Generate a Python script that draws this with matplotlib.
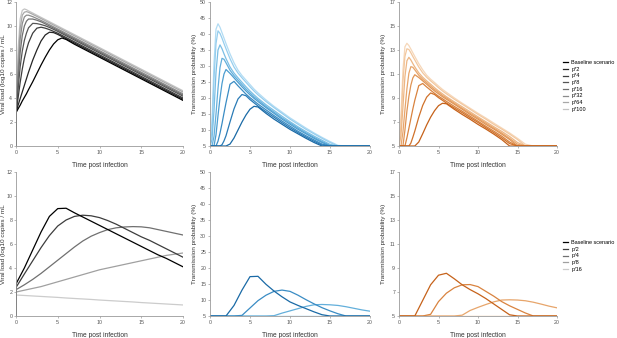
import matplotlib
matplotlib.use("Agg")
import matplotlib.pyplot as plt

plt.rcParams['font.family'] = ['Liberation Sans', 'DejaVu Sans']

# ---------------- data ----------------
# top row: increasing p
top_labels = ['Baseline scenario', 'p*2', 'p*4', 'p*8', 'p*16', 'p*32', 'p*64', 'p*100']

t_vl = [0, 0.02, 0.25, 0.5, 0.75, 1, 1.25, 1.5, 2, 2.5, 3, 3.5, 4, 4.5, 5, 5.5, 6, 7, 10, 15, 20]
vl_base = [0, 2.8, 3.1, 3.4, 3.75, 4.05, 4.35, 4.7, 5.35, 6.05, 6.75, 7.4, 8.0, 8.5, 8.85, 9.0, 8.88, 8.48, 7.4, 5.6, 3.8]
vl_p2 = [0, 2.85, 3.4, 3.95, 4.5, 5.05, 5.6, 6.15, 7.15, 8.0, 8.75, 9.25, 9.48, 9.45, 9.3, 9.12, 8.94, 8.58, 7.5, 5.7, 3.9]
vl_p4 = [0, 2.9, 4.0, 5.3, 6.4, 7.3, 8.0, 8.6, 9.4, 9.82, 9.9, 9.82, 9.7, 9.55, 9.4, 9.22, 9.04, 8.68, 7.6, 5.8, 4.0]
vl_p8 = [0, 2.9, 4.7, 6.6, 7.9, 8.8, 9.4, 9.85, 10.22, 10.2, 10.12, 10.02, 9.88, 9.72, 9.55, 9.37, 9.19, 8.83, 7.75, 5.95, 4.15]
vl_p16 = [0, 2.95, 5.5, 7.8, 9.2, 10.0, 10.4, 10.58, 10.58, 10.48, 10.35, 10.18, 10.0, 9.83, 9.65, 9.47, 9.29, 8.93, 7.85, 6.05, 4.25]
vl_p32 = [0, 3.0, 6.2, 8.9, 10.2, 10.75, 10.9, 10.9, 10.78, 10.62, 10.46, 10.29, 10.11, 9.93, 9.75, 9.57, 9.39, 9.03, 7.95, 6.15, 4.35]
vl_p64 = [0, 3.0, 7.0, 9.8, 10.9, 11.15, 11.2, 11.14, 10.97, 10.8, 10.62, 10.44, 10.26, 10.08, 9.9, 9.72, 9.54, 9.18, 8.1, 6.3, 4.5]
vl_p100 = [0, 3.0, 8.0, 10.6, 11.3, 11.42, 11.36, 11.26, 11.08, 10.9, 10.72, 10.54, 10.36, 10.18, 10.0, 9.82, 9.64, 9.28, 8.2, 6.4, 4.6]

t_tp = [0, 0.25, 0.5, 0.75, 1, 1.25, 1.5, 1.75, 2, 2.5, 3, 3.5, 4, 4.5, 5, 5.5, 6, 7, 8, 9, 10, 11, 12, 13, 14, 15, 16, 17, 20]
tb_base = [5, 5, 5, 5, 5, 5, 5, 5, 5, 5.6, 7.5, 10.0, 12.5, 14.7, 16.5, 17.4, 17.2, 15.2, 13.4, 11.8, 10.2, 8.8, 7.4, 6.1, 5.0, 5, 5, 5, 5]
tb_p2 = [5, 5, 5, 5, 5, 5, 5.4, 6.6, 8.2, 12.5, 16.6, 19.7, 21.1, 20.7, 19.5, 18.5, 17.5, 15.7, 14.0, 12.3, 10.7, 9.2, 7.8, 6.5, 5.3, 5, 5, 5, 5]
tb_p4 = [5, 5, 5, 5, 6.5, 9.0, 12.0, 15.3, 18.5, 24.3, 25.2, 23.8, 22.5, 21.2, 20.1, 19.1, 18.1, 16.3, 14.5, 12.8, 11.2, 9.6, 8.2, 6.9, 5.6, 5, 5, 5, 5]
tb_p8 = [5, 5, 5, 8.5, 14.5, 20.0, 24.5, 27.5, 28.9, 27.7, 26.3, 24.9, 23.5, 22.2, 21.0, 19.9, 18.9, 17.0, 15.2, 13.4, 11.8, 10.2, 8.8, 7.4, 6.1, 5.0, 5, 5, 5]
tb_p16 = [5, 5, 8, 15, 23, 29.5, 32.4, 32.1, 31.0, 28.7, 27.0, 25.6, 24.2, 22.8, 21.6, 20.4, 19.4, 17.4, 15.6, 13.8, 12.2, 10.6, 9.1, 7.7, 6.4, 5.2, 5, 5, 5]
tb_p32 = [5, 7, 16, 28, 35, 36.6, 35.4, 33.8, 32.3, 29.7, 27.8, 26.3, 24.9, 23.5, 22.2, 21.0, 19.9, 17.9, 16.1, 14.3, 12.6, 11.0, 9.5, 8.1, 6.8, 5.5, 5, 5, 5]
tb_p64 = [5, 10, 26, 37, 41.0, 40.2, 38.7, 37.0, 35.4, 32.3, 29.7, 27.8, 26.3, 24.9, 23.5, 22.2, 21.0, 18.9, 17.0, 15.2, 13.4, 11.8, 10.2, 8.8, 7.4, 6.1, 5.0, 5, 5]
tb_p100 = [5, 13, 31, 41.5, 43.2, 42.1, 40.4, 38.7, 37.0, 33.8, 31.0, 28.7, 27.0, 25.6, 24.2, 22.8, 21.6, 19.4, 17.4, 15.6, 13.8, 12.2, 10.6, 9.1, 7.7, 6.4, 5.2, 5, 5]

to_base = [5, 5, 5, 5, 5, 5, 5, 5, 5, 5.33, 6.02, 6.75, 7.40, 7.94, 8.36, 8.56, 8.52, 8.06, 7.63, 7.23, 6.80, 6.41, 5.99, 5.54, 5.0, 5, 5, 5, 5]
to_p2 = [5, 5, 5, 5, 5, 5, 5.24, 5.72, 6.24, 7.40, 8.38, 9.07, 9.42, 9.29, 9.03, 8.81, 8.58, 8.17, 7.78, 7.36, 6.96, 6.53, 6.12, 5.68, 5.2, 5, 5, 5, 5]
to_p4 = [5, 5, 5, 5, 5.68, 6.47, 7.28, 8.08, 8.81, 10.03, 10.21, 9.92, 9.65, 9.39, 9.15, 8.94, 8.72, 8.30, 7.90, 7.48, 7.07, 6.64, 6.24, 5.82, 5.33, 5, 5, 5, 5]
to_p8 = [5, 5, 5, 6.32, 7.90, 9.13, 10.07, 10.67, 10.94, 10.71, 10.43, 10.15, 9.86, 9.59, 9.35, 9.11, 8.90, 8.48, 8.06, 7.63, 7.23, 6.80, 6.41, 5.99, 5.54, 5.0, 5, 5, 5]
to_p16 = [5, 5, 6.18, 8.01, 9.76, 11.06, 11.61, 11.56, 11.35, 10.90, 10.57, 10.29, 10.00, 9.72, 9.48, 9.22, 9.01, 8.57, 8.15, 7.73, 7.33, 6.91, 6.50, 6.09, 5.64, 5.15, 5, 5, 5]
to_p32 = [5, 5.86, 8.25, 10.77, 12.10, 12.39, 12.17, 11.87, 11.59, 11.10, 10.73, 10.43, 10.15, 9.86, 9.59, 9.35, 9.11, 8.68, 8.27, 7.85, 7.43, 7.02, 6.61, 6.22, 5.79, 5.29, 5, 5, 5]
to_p64 = [5, 6.75, 10.37, 12.46, 13.1, 13.04, 12.77, 12.46, 12.17, 11.59, 11.10, 10.73, 10.43, 10.15, 9.86, 9.59, 9.35, 8.90, 8.48, 8.06, 7.63, 7.23, 6.80, 6.41, 5.99, 5.54, 5.0, 5, 5]
to_p100 = [5, 7.53, 11.35, 13.27, 13.56, 13.37, 13.08, 12.77, 12.46, 11.87, 11.35, 10.90, 10.57, 10.29, 10.00, 9.72, 9.48, 9.01, 8.57, 8.15, 7.73, 7.33, 6.91, 6.50, 6.09, 5.64, 5.15, 5, 5]

# bottom row: decreasing p
bot_labels = ['Baseline scenario', 'p/2', 'p/4', 'p/8', 'p/16']

t_vl_b = [0, 0.02, 1, 2, 3, 4, 5, 6, 7, 8, 9, 10, 11, 12, 13, 14, 15, 16, 17, 18, 19, 20]
bvl_base = [0, 2.7, 4.0, 5.5, 7.0, 8.3, 8.95, 8.98, 8.6, 8.25, 7.9, 7.55, 7.2, 6.85, 6.5, 6.15, 5.8, 5.45, 5.1, 4.8, 4.45, 4.1]
bvl_p2 = [0, 2.4, 3.5, 4.6, 5.7, 6.7, 7.5, 8.0, 8.3, 8.4, 8.35, 8.2, 7.95, 7.65, 7.3, 6.95, 6.6, 6.3, 5.95, 5.6, 5.25, 4.9]
bvl_p4 = [0, 2.2, 2.6, 3.05, 3.55, 4.1, 4.65, 5.2, 5.75, 6.25, 6.65, 6.95, 7.2, 7.35, 7.42, 7.45, 7.43, 7.35, 7.2, 7.05, 6.9, 6.75]
bvl_p8 = [0, 2.0, 2.15, 2.3, 2.45, 2.65, 2.85, 3.05, 3.25, 3.45, 3.65, 3.85, 4.0, 4.15, 4.3, 4.45, 4.6, 4.75, 4.9, 5.05, 5.15, 5.25]
bvl_p16 = [0, 1.75, 1.71, 1.67, 1.63, 1.59, 1.55, 1.5, 1.46, 1.42, 1.38, 1.33, 1.29, 1.25, 1.21, 1.17, 1.12, 1.08, 1.04, 1.0, 0.96, 0.92]

t_tp_b = list(range(21))
bb_base = [5, 5, 5, 8.3, 13.1, 17.3, 17.4, 14.9, 12.8, 11.0, 9.4, 8.3, 7.3, 6.3, 5.4, 5, 5, 5, 5, 5, 5]
bb_p2 = [5, 5, 5, 5, 5.2, 7.5, 9.8, 11.5, 12.7, 13.1, 12.7, 11.5, 10.1, 8.8, 7.6, 6.6, 5.7, 5.0, 5, 5, 5]
bb_p4 = [5, 5, 5, 5, 5, 5, 5, 5, 5.1, 5.9, 6.6, 7.3, 8.0, 8.5, 8.6, 8.5, 8.3, 7.9, 7.4, 6.9, 6.5]
bb_p8 = [5] * 21
bb_p16 = [5] * 21

ob_base = [5, 5, 5, 6.3, 7.6, 8.4, 8.56, 8.1, 7.6, 7.2, 6.85, 6.45, 6.0, 5.55, 5.1, 5, 5, 5, 5, 5, 5]
ob_p2 = [5, 5, 5, 5, 5.14, 6.2, 6.9, 7.35, 7.6, 7.62, 7.45, 7.05, 6.65, 6.2, 5.85, 5.55, 5.25, 5.0, 5, 5, 5]
ob_p4 = [5, 5, 5, 5, 5, 5, 5, 5, 5.07, 5.46, 5.72, 5.96, 6.18, 6.33, 6.35, 6.33, 6.27, 6.15, 5.99, 5.82, 5.68]
ob_p8 = [5] * 21
ob_p16 = [5] * 21

# ---------------- colours ----------------
greys8 = ['#000000', '#252525', '#3d3d3d', '#555555', '#707070', '#8c8c8c', '#a8a8a8', '#c4c4c4']
blues8 = ['#1a6aa6', '#2a7bb6', '#3a8cc4', '#4c9dd0', '#63afdb', '#7bbfe5', '#96ceee', '#b2dcf4']
oranges8 = ['#c6621a', '#d0722b', '#d9833f', '#e09454', '#e7a56b', '#edb684', '#f2c79e', '#f6d7b9']
greys5 = ['#000000', '#3d3d3d', '#707070', '#a0a0a0', '#cccccc']
blues5 = ['#1a6aa6', '#3a8cc4', '#63afdb', '#96ceee', '#c2e4f7']
oranges5 = ['#c6621a', '#d9833f', '#e7a56b', '#f2c79e', '#f9e2cc']

fig = plt.figure(figsize=(6.17, 3.38), dpi=100)

W, H = 617.0, 338.0
cols = [(16, 183), (210, 370), (399, 557)]
rows = [(2, 146), (172, 316)]


def make_ax(col, row):
    x0, x1 = cols[col]
    y0, y1 = rows[row]
    return fig.add_axes([x0 / W, 1 - y1 / H, (x1 - x0) / W, (y1 - y0) / H])


def style(ax, ylim, yticks, ylabel, ypad=2):
    ax.set_xlim(0, 20)
    ax.set_ylim(*ylim)
    ax.set_xticks([0, 5, 10, 15, 20])
    ax.set_yticks(yticks)
    for s in ['top', 'right']:
        ax.spines[s].set_visible(False)
    for s in ['left', 'bottom']:
        ax.spines[s].set_color('#9a9a9a')
        ax.spines[s].set_linewidth(0.6)
    ax.tick_params(labelsize=3.8, colors='#9a9a9a', labelcolor='#555555',
                   length=1.5, width=0.5, pad=1.2)
    ax.set_xlabel('Time post infection', fontsize=4.8, color='#333333', labelpad=5)
    ax.set_ylabel(ylabel, fontsize=4.6, color='#333333', labelpad=ypad)


vl_label = 'Viral load (log10 copies / mL'
tp_label = 'Transmission probability (%)'

# top row
ax = make_ax(0, 0)
top_vl = [vl_base, vl_p2, vl_p4, vl_p8, vl_p16, vl_p32, vl_p64, vl_p100]
top_handles = []
for i in range(len(top_vl) - 1, -1, -1):
    ln, = ax.plot(t_vl, top_vl[i], color=greys8[i], lw=0.9)
    top_handles.insert(0, ln)
style(ax, (0, 12), range(0, 13, 2), vl_label, ypad=0.5)

ax = make_ax(1, 0)
top_tb = [tb_base, tb_p2, tb_p4, tb_p8, tb_p16, tb_p32, tb_p64, tb_p100]
for i in range(len(top_tb) - 1, -1, -1):
    ax.plot(t_tp, top_tb[i], color=blues8[i], lw=0.9)
style(ax, (5, 50), range(5, 51, 5), tp_label)

ax = make_ax(2, 0)
top_to = [to_base, to_p2, to_p4, to_p8, to_p16, to_p32, to_p64, to_p100]
for i in range(len(top_to) - 1, -1, -1):
    ax.plot(t_tp, top_to[i], color=oranges8[i], lw=0.9)
style(ax, (5, 17), range(5, 18, 2), tp_label)

# bottom row
ax = make_ax(0, 1)
bot_vl = [bvl_base, bvl_p2, bvl_p4, bvl_p8, bvl_p16]
bot_handles = []
for i in range(len(bot_vl) - 1, -1, -1):
    ln, = ax.plot(t_vl_b, bot_vl[i], color=greys5[i], lw=0.9)
    bot_handles.insert(0, ln)
style(ax, (0, 12), range(0, 13, 2), vl_label, ypad=0.5)

ax = make_ax(1, 1)
bot_bb = [bb_base, bb_p2, bb_p4, bb_p8, bb_p16]
for i in range(len(bot_bb) - 1, -1, -1):
    ax.plot(t_tp_b, bot_bb[i], color=blues5[i], lw=0.9)
style(ax, (5, 50), range(5, 51, 5), tp_label)

ax = make_ax(2, 1)
bot_ob = [ob_base, ob_p2, ob_p4, ob_p8, ob_p16]
for i in range(len(bot_ob) - 1, -1, -1):
    ax.plot(t_tp_b, bot_ob[i], color=oranges5[i], lw=0.9)
style(ax, (5, 17), range(5, 18, 2), tp_label)

# legends
leg_kw = dict(loc='center left', frameon=False, fontsize=4, handlelength=0.9,
              handletextpad=0.6, labelspacing=0.3, borderpad=0, borderaxespad=0)
fig.legend(top_handles, top_labels, bbox_to_anchor=(563 / W, 1 - 86 / H), **leg_kw)
fig.legend(bot_handles, bot_labels, bbox_to_anchor=(563 / W, 1 - 256 / H), **leg_kw)

fig.savefig('out.png', dpi=100)
